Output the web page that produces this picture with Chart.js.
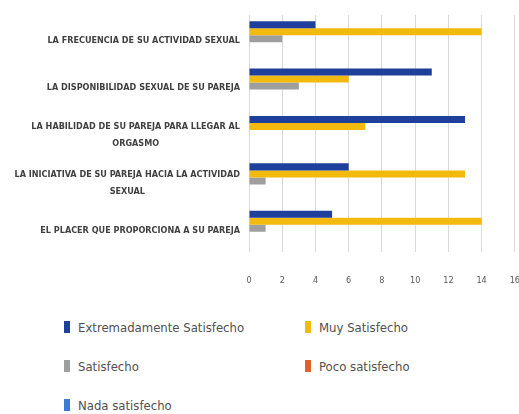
<!DOCTYPE html>
<html>
<head>
<meta charset="utf-8">
<script src="https://cdn.jsdelivr.net/npm/chart.js@4/dist/chart.umd.min.js"></script>
<style>
  body { margin: 0; width: 519px; height: 414px; overflow: hidden; background: #fff; }
  #chart { position: absolute; left: 0; top: 0; }
  #legend { position: absolute; left: 64px; top: 320px; width: 440px;
    font-family: "Liberation Sans Narrow", "DejaVu Sans Condensed", sans-serif; font-size: 13px; color: #505050; }
  .item { position: absolute; white-space: nowrap; }
  .box { display: inline-block; width: 6px; height: 12px; margin-right: 8px; vertical-align: -1px; }
</style>
</head>
<body>
<canvas id="chart" width="543" height="286"></canvas>
<div id="legend"></div>
<script>
var categories = [
    ["LA FRECUENCIA DE SU ACTIVIDAD SEXUAL"],
    ["LA DISPONIBILIDAD SEXUAL DE SU PAREJA"],
    ["LA HABILIDAD DE SU PAREJA PARA LLEGAR AL", "ORGASMO"],
    ["LA INICIATIVA DE SU PAREJA HACIA LA ACTIVIDAD", "SEXUAL"],
    ["EL PLACER QUE PROPORCIONA A SU PAREJA"]
];
var extremadamente = [4, 11, 13, 6, 5];
var muy = [14, 6, 7, 13, 14];
var satisfecho = [2, 3, 0, 1, 1];
var poco = [0, 0, 0, 0, 0];
var nada = [0, 0, 0, 0, 0];
var xTicks = [0, 2, 4, 6, 8, 10, 12, 14, 16];

var seriesNames = ["Extremadamente Satisfecho", "Muy Satisfecho", "Satisfecho", "Poco satisfecho", "Nada satisfecho"];
var seriesColors = ["#1f3f9c", "#f2b90f", "#9e9e9e", "#e0602a", "#3a7bd5"];
var seriesData = [extremadamente, muy, satisfecho, poco, nada];

var FONT = '"Liberation Sans Narrow", "DejaVu Sans Condensed", sans-serif';

// draws the category labels: block right aligned, lines centred in the block
var labelPlugin = {
    id: 'catLabels',
    afterDraw: function (chart) {
        var ctx = chart.ctx;
        var yScale = chart.scales.y;
        ctx.save();
        ctx.font = 'bold 9px ' + FONT;
        ctx.fillStyle = '#404040';
        ctx.textAlign = 'center';
        ctx.textBaseline = 'middle';
        var right = 240;
        for (var i = 0; i < categories.length; i++) {
            var lines = categories[i];
            var w = 0;
            for (var j = 0; j < lines.length; j++) {
                w = Math.max(w, ctx.measureText(lines[j]).width);
            }
            var y = yScale.getPixelForTick(i) + 2;
            var lh = 17;
            var y0 = y - (lines.length - 1) * lh / 2;
            for (var j = 0; j < lines.length; j++) {
                ctx.fillText(lines[j], right - w / 2, y0 + j * lh);
            }
        }
        ctx.restore();
    }
};

var datasets = [];
for (var i = 0; i < seriesNames.length; i++) {
    datasets.push({
        label: seriesNames[i],
        data: seriesData[i],
        backgroundColor: seriesColors[i],
        borderWidth: 0,
        categoryPercentage: 0.74,
        barPercentage: 1.0
    });
}

new Chart(document.getElementById('chart').getContext('2d'), {
    type: 'bar',
    data: { labels: categories, datasets: datasets },
    plugins: [labelPlugin],
    options: {
        indexAxis: 'y',
        responsive: false,
        animation: false,
        layout: { padding: { top: 15, right: 3 } },
        plugins: { legend: { display: false }, tooltip: { enabled: false } },
        scales: {
            x: {
                min: 0,
                max: 16,
                afterBuildTicks: function (scale) {
                    scale.ticks = xTicks.map(function (v) { return { value: v }; });
                },
                afterFit: function (scale) { scale.height = 34; },
                grid: { color: '#d9d9d9', drawTicks: false },
                border: { display: false },
                ticks: { padding: 23, color: '#595959', font: { family: FONT, size: 9 } }
            },
            y: {
                grid: { display: false },
                border: { display: false },
                ticks: { display: false },
                afterFit: function (scale) { scale.width = 249; }
            }
        }
    }
});

// legend in two columns, like the original
var legend = document.getElementById('legend');
for (var i = 0; i < seriesNames.length; i++) {
    var div = document.createElement('div');
    div.className = 'item';
    div.style.left = (i % 2 === 0 ? 0 : 241) + 'px';
    div.style.top = (Math.floor(i / 2) * 39) + 'px';
    div.innerHTML = '<span class="box" style="background:' + seriesColors[i] + '"></span>' + seriesNames[i];
    legend.appendChild(div);
}
</script>
</body>
</html>
